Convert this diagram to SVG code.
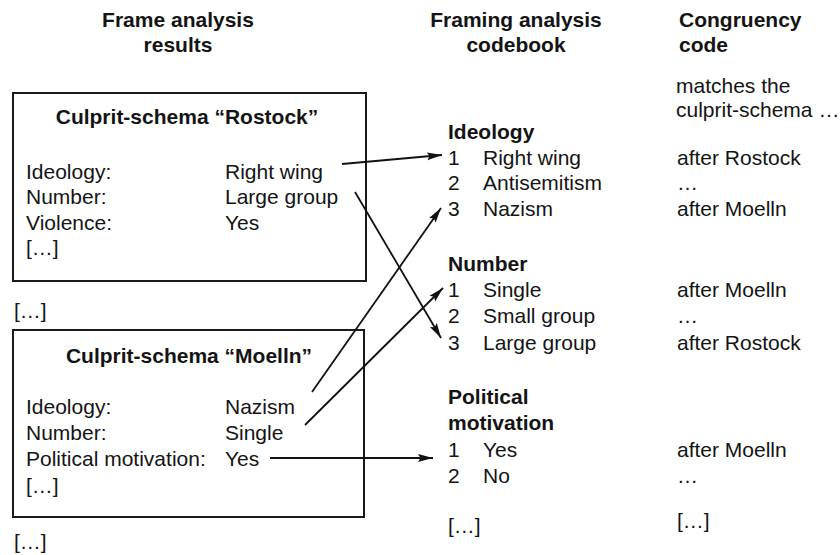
<svg xmlns="http://www.w3.org/2000/svg" width="840" height="555" viewBox="0 0 840 555">
  <style>
    text { font-family: "Liberation Sans", Arial, Helvetica, sans-serif; font-size: 21px; fill: #141414; }
    .b { font-weight: bold; }
    .mid { text-anchor: middle; }
    .box { fill: none; stroke: #1a1a1a; stroke-width: 2; }
    .link { fill: none; stroke: #111; stroke-width: 1.8; marker-end: url(#head); }
  </style>
  <defs>
    <marker id="head" markerUnits="userSpaceOnUse" markerWidth="16" markerHeight="10" refX="15" refY="5" orient="auto">
      <path d="M0,1 L15,5 L0,9 L2.5,5 Z" fill="#111"/>
    </marker>
  </defs>
  <rect width="840" height="555" fill="#fff"/>

  <!-- column headings -->
  <g id="heading-results">
    <text class="b mid" x="178" y="27">Frame analysis</text>
    <text class="b mid" x="178" y="52">results</text>
  </g>
  <g id="heading-codebook">
    <text class="b mid" x="516" y="27">Framing analysis</text>
    <text class="b mid" x="516" y="52">codebook</text>
  </g>
  <g id="heading-congruency">
    <text class="b" x="679" y="27">Congruency</text>
    <text class="b" x="679" y="52">code</text>
  </g>

  <!-- schema "Rostock" -->
  <g id="schema-rostock">
    <rect class="box" x="13" y="93" width="353" height="188"/>
    <text class="b mid" x="187" y="124">Culprit-schema “Rostock”</text>
    <text x="26" y="179">Ideology:</text>
    <text x="26" y="204">Number:</text>
    <text x="26" y="230">Violence:</text>
    <text x="26" y="255">[…]</text>
    <text x="225" y="179">Right wing</text>
    <text x="225" y="204">Large group</text>
    <text x="225" y="230">Yes</text>
  </g>

  <text x="14" y="318">[…]</text>

  <!-- schema "Moelln" -->
  <g id="schema-moelln">
    <rect class="box" x="13" y="330" width="351" height="187"/>
    <text class="b mid" x="189" y="363">Culprit-schema “Moelln”</text>
    <text x="26" y="414">Ideology:</text>
    <text x="26" y="440">Number:</text>
    <text x="26" y="466">Political motivation:</text>
    <text x="26" y="493">[…]</text>
    <text x="225" y="414">Nazism</text>
    <text x="225" y="440">Single</text>
    <text x="225" y="466">Yes</text>
  </g>

  <text x="14" y="549">[…]</text>

  <!-- codebook categories -->
  <g id="code-ideology">
    <text class="b" x="448" y="139">Ideology</text>
    <text x="448" y="165">1</text><text x="483" y="165">Right wing</text>
    <text x="448" y="190">2</text><text x="483" y="190">Antisemitism</text>
    <text x="448" y="216">3</text><text x="483" y="216">Nazism</text>
  </g>
  <g id="code-number">
    <text class="b" x="448" y="271">Number</text>
    <text x="448" y="297">1</text><text x="483" y="297">Single</text>
    <text x="448" y="323">2</text><text x="483" y="323">Small group</text>
    <text x="448" y="350">3</text><text x="483" y="350">Large group</text>
  </g>
  <g id="code-motivation">
    <text class="b" x="448" y="404">Political</text>
    <text class="b" x="448" y="430">motivation</text>
    <text x="448" y="457">1</text><text x="483" y="457">Yes</text>
    <text x="448" y="483">2</text><text x="483" y="483">No</text>
    <text x="448" y="533">[…]</text>
  </g>

  <!-- congruency codes -->
  <g id="congruency">
    <text x="676" y="93">matches the</text>
    <text x="676" y="117">culprit-schema …</text>
    <text x="677" y="165">after Rostock</text>
    <text x="677" y="190">…</text>
    <text x="677" y="216">after Moelln</text>
    <text x="677" y="297">after Moelln</text>
    <text x="677" y="323">…</text>
    <text x="677" y="350">after Rostock</text>
    <text x="677" y="457">after Moelln</text>
    <text x="677" y="483">…</text>
    <text x="677" y="528">[…]</text>
  </g>

  <!-- links from schema values to codebook entries -->
  <g id="connectors">
    <line class="link" x1="342" y1="164" x2="442" y2="155"/>
    <line class="link" x1="355" y1="192" x2="441" y2="338"/>
    <line class="link" x1="312" y1="392" x2="441" y2="208"/>
    <line class="link" x1="305" y1="425" x2="443" y2="288"/>
    <line class="link" x1="270" y1="458" x2="433" y2="458"/>
  </g>
</svg>
